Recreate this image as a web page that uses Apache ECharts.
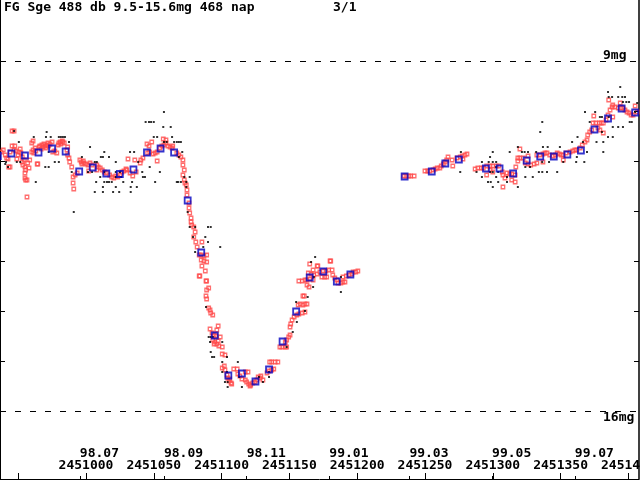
<!DOCTYPE html>
<html>
<head>
<meta charset="utf-8">
<script src="https://cdn.jsdelivr.net/npm/echarts@6/dist/echarts.min.js"></script>
<style>html,body{margin:0;padding:0;background:#fff}#c{width:640px;height:480px}</style>
</head>
<body>
<div id="c"></div>
<script>
const JD0 = 2451000;
const titleText = 'FG Sge 488 db 9.5-15.6mg 468 nap';
const pageText = '3/1';
const jdTicks = [2450950, 2451000, 2451050, 2451100, 2451150, 2451200, 2451250, 2451300, 2451350, 2451400];
const jdLabelTicks = [2451000, 2451050, 2451100, 2451150, 2451200, 2451250, 2451300, 2451350, 2451400];
const monthTicks = [2450995.5, 2451057.5, 2451118.5, 2451179.5, 2451238.5, 2451299.5, 2451360.5];
const monthLabels = ['98.07', '98.09', '98.11', '99.01', '99.03', '99.05', '99.07'];
const magTicks = [10, 11, 12, 13, 14, 15];
const refMags = [9, 16];
const refLabels = ['9mg', '16mg'];

// 10-day means (days relative to JD0)
const blueDays = [-65,-55,-45,-35,-25,-15,-5,5,15,25,35,45,55,65,75,85,95,105,115,125,135,145,155,165,175,185,195,235,255,265,275,295,305,315,325,335,345,355,365,375,385,395,405];
const blueMags = [10.90,10.85,10.89,10.83,10.75,10.81,11.21,11.13,11.25,11.26,11.17,10.83,10.75,10.83,11.79,12.83,14.49,15.29,15.25,15.41,15.17,14.61,14.01,13.33,13.21,13.41,13.27,11.31,11.21,11.05,10.97,11.15,11.15,11.25,10.99,10.91,10.91,10.87,10.79,10.37,10.15,9.95,10.03];

// database observations [day, mag]
const redObs = [
[-62.5,10.82],[-61,10.78],[-59.5,10.88],[-58.5,10.94],[-57.5,10.96],[-56,10.82],[-54.5,10.70],[-54.5,10.40],[-53,10.40],[-52.5,10.70],
[-53,10.78],[-51.5,10.80],[-51,10.96],[-57,11.12],[-56,11.12],[-50,10.88],[-49.5,10.82],[-48.5,10.76],[-48,10.84],[-47,10.92],
[-47,11.02],[-46.5,11.08],[-45.5,10.98],[-45,11.12],[-44.5,11.18],[-45,11.24],[-45,11.34],[-44.5,11.38],[-43.5,11.38],[-43.5,11.72],
[-42,11.14],[-43,11.04],[-41.5,10.98],[-40,10.82],[-39,10.78],[-38.5,10.84],[-40,10.64],[-39,10.60],[-37.5,10.74],[-37,10.80],
[-36,11.06],[-35.5,11.06],[-34.5,10.72],[-34,10.70],[-33,10.76],[-32.5,10.68],[-31.5,10.72],[-31,10.66],[-30,10.70],[-29.5,10.74],
[-29,10.68],[-28,10.64],[-27.5,10.70],[-26.5,10.66],[-25,10.62],[-24.5,10.82],[-23,10.80],[-21.5,10.84],[-20.5,10.68],[-20,10.64],
[-19,10.62],[-18.5,10.66],[-17.5,10.60],[-17,10.62],[-16,10.64],[-14,10.78],[-13.5,10.72],[-13.5,10.88],[-12.5,10.94],[-12,11.02],
[-10.5,11.12],[-9.5,11.32],[-8,11.28],[-6.5,11.24],[-9.5,11.44],[-9,11.56],[-4.5,10.98],[-3.5,11.02],[-3,11.06],[-2,11.00],
[-1.5,11.04],[0,11.06],[1.5,11.08],[3,11.04],[4.5,11.08],[2,11.20],[8,11.18],[8,11.08],[9,11.12],[10.5,11.14],
[12,11.18],[13.5,11.22],[15,11.24],[17.5,11.28],[19,11.32],[20.5,11.34],[22,11.30],[23.5,11.32],[25,11.28],[26.5,11.22],
[28,11.20],[29.5,11.16],[30,11.18],[31,10.96],[36,10.98],[32.5,11.24],[34.5,11.30],[37,11.22],[40,11.04],[40.5,10.98],
[42,10.94],[45,10.66],[46.5,10.70],[48.5,10.62],[45.5,10.84],[47,10.82],[49.5,10.86],[51,10.84],[52.5,10.82],[52.5,11.00],
[54.5,10.74],[56,10.70],[57.5,10.68],[59,10.64],[57,10.56],[59,10.58],[60.5,10.70],[62,10.72],[63.5,10.74],[64,10.70],
[67,10.84],[68.5,10.88],[70,10.92],[71.5,10.98],[71.5,11.08],[72.5,11.18],[71.5,11.28],[72.5,11.38],[73,11.44],[74,11.48],
[74.5,11.58],[74.5,11.68],[76,11.84],[76,11.94],[76.5,12.04],[77.5,12.14],[77.5,12.22],[78,12.28],[79.5,12.32],[80.5,12.42],
[79.5,12.52],[81,12.62],[82,12.72],[85.5,12.62],[83.5,12.88],[85,12.88],[87,12.90],[89,12.88],[85,12.98],[87,13.00],
[89,13.02],[85.5,13.10],[88,13.20],[83.5,13.30],[84,13.30],[88.5,13.40],[89,13.40],[90.5,13.54],[89,13.58],[88.5,13.70],
[89,13.76],[90.5,13.94],[91.5,13.98],[92,14.04],[93.5,14.08],[97.5,14.30],[91.5,14.36],[96.5,14.38],[93,14.44],[94.5,14.48],
[96,14.50],[99,14.52],[93.5,14.58],[95,14.62],[96.5,14.66],[98,14.70],[100.5,14.72],[94.5,14.66],[97.5,14.60],[100.5,14.86],
[102.5,14.88],[102,15.10],[100.5,15.14],[102.5,15.18],[104,15.28],[104.5,15.34],[105.5,15.40],[107,15.44],[107.5,15.46],[106,15.36],
[109,15.16],[111.5,15.16],[112,15.26],[113.5,15.30],[115,15.36],[117.5,15.22],[119.5,15.22],[117.5,15.38],[118.5,15.42],[120,15.46],
[121.5,15.48],[123,15.44],[124.5,15.42],[126,15.38],[121,15.50],[127,15.32],[128.5,15.34],[130.5,15.38],[129,15.30],[133.5,15.24],
[135,15.20],[137,15.18],[138.5,15.16],[135.5,15.02],[137,15.02],[139.5,15.02],[141.5,15.02],[143,14.72],[144.5,14.72],[147,14.72],
[148,14.72],[147,14.62],[148,14.58],[149.5,14.52],[150.5,14.48],[150.5,14.32],[151,14.26],[152,14.18],[153.5,14.12],[155.5,14.08],
[157,14.06],[159.5,14.04],[161.5,14.02],[156.5,13.88],[158,13.86],[160,13.88],[161.5,13.86],[163,13.86],[160,13.70],[161,13.70],
[157,13.40],[159.5,13.40],[161.5,13.38],[163,13.38],[165,13.36],[167.5,13.38],[163,13.48],[164.5,13.52],[164,13.24],[166,13.26],
[168,13.28],[170.5,13.26],[165,13.06],[167.5,13.18],[170.5,13.10],[171,13.10],[172.5,13.22],[175,13.20],[177,13.20],[179,13.18],
[181.5,13.18],[174,13.32],[176,13.32],[177.5,13.32],[180,13.00],[180.5,13.00],[182,13.28],[183.5,13.34],[185,13.38],[186,13.44],
[188,13.44],[189.5,13.42],[191,13.42],[189.5,13.32],[192,13.30],[194,13.28],[196,13.26],[197,13.22],[199,13.22],[200.5,13.20],
[234.5,11.30],[236,11.30],[238,11.30],[239.5,11.30],[242,11.30],[250,11.20],[252,11.20],[253.5,11.20],[256,11.18],[257.5,11.16],
[259,11.14],[261,11.14],[262,11.10],[263.5,11.06],[265,11.02],[266,10.98],[267,10.92],[270,10.98],[270.5,11.10],[273.5,10.94],
[276,10.92],[277.5,10.90],[279.5,10.88],[281,10.86],[278,10.96],[287,11.16],[289,11.14],[291.5,11.14],[293,11.14],[295.5,11.10],
[298,11.10],[300,11.10],[302.5,11.10],[304.5,11.10],[295.5,11.28],[298,11.18],[300,11.22],[307,11.22],[307.5,11.28],[309,11.34],
[307.5,11.52],[310.5,11.24],[312.5,11.26],[314,11.26],[316.5,11.28],[314,11.38],[316.5,11.42],[317,11.12],[318.5,11.00],[320,10.76],
[318.5,10.94],[320,10.94],[322.5,10.94],[324,11.04],[326,11.06],[328,11.08],[330.5,11.06],[332.5,11.04],[326,10.90],[332.5,10.88],
[335,10.88],[337,10.86],[338.5,10.84],[340,10.84],[337,11.02],[342,10.88],[344.5,10.90],[346,10.88],[347.5,10.84],[349,10.86],
[350.5,10.88],[352,10.88],[352,10.98],[354,10.84],[357,10.82],[359,10.80],[360.5,10.78],[362,10.78],[364.5,10.74],[366,10.68],
[368,10.62],[369.5,10.58],[370,10.48],[371.5,10.42],[373,10.38],[374.5,10.10],[374,10.24],[376,10.24],[378.5,10.24],[380,10.24],
[381.5,10.24],[377.5,10.34],[379,10.38],[381.5,10.44],[383.5,10.18],[385,10.08],[386.5,9.98],[388.5,9.88],[385.5,9.78],[388,9.92],
[390,9.92],[392.5,9.94],[394.5,9.94],[396,9.94],[388.5,10.12],[394,9.84],[397.5,9.98],[399,10.02],[400.5,10.04],[402,10.08],
[403.5,10.08],[405,9.90],[406.5,10.02]
];

// other observations [day, mag]
const blackObs = [
[57.5,10.02],[44,10.22],[46.5,10.22],[48,10.22],[50,10.22],[57,10.32],[62.5,10.32],[-29,10.42],[-53,10.40],[-38.5,10.52],
[-29.5,10.52],[-26,10.52],[-20,10.52],[-18.5,10.52],[-17,10.52],[-15.5,10.52],[-49.5,10.62],[-12.5,10.62],[3,10.72],[50,10.52],
[52.5,10.52],[63.5,10.52],[65,10.62],[67,10.62],[68.5,10.62],[70,10.62],[57.5,10.62],[59.5,10.62],[32.5,10.82],[35.5,10.82],
[-27.5,10.82],[71,10.82],[13.5,10.82],[-3,10.92],[11,10.92],[12.5,10.92],[17,10.92],[38.5,11.02],[68.5,10.92],[-59,11.02],
[-51,11.02],[-48.5,11.02],[-23,11.02],[-20,11.02],[6.5,11.02],[8,11.02],[22,11.02],[-30,11.12],[-27.5,11.12],[-10.5,11.22],
[1.5,11.22],[4.5,11.22],[13.5,11.22],[22,11.22],[25,11.22],[41.5,11.22],[54.5,11.22],[47,11.12],[7.5,11.42],[13.5,11.42],
[15.5,11.42],[17,11.42],[19,11.42],[27.5,11.42],[34,11.42],[42,11.32],[43.5,11.32],[51,11.42],[68,11.42],[-37,11.42],
[12.5,11.52],[22,11.52],[33,11.52],[37.5,11.52],[6.5,11.62],[12.5,11.62],[20,11.62],[24.5,11.62],[33,11.62],[-9,12.02],
[74,11.42],[76.5,11.32],[72.5,11.32],[74,11.52],[80.5,12.32],[79,12.52],[-59.5,11.06],[-57.5,11.12],[10.5,11.32],[22,11.32],
[26,11.32],[67,11.42],[70,11.42],[90,12.32],[92,12.32],[76.5,12.32],[88,12.52],[90,12.62],[99,12.72],[86.5,12.72],
[80.5,12.82],[75,12.02],[169,12.92],[166,13.02],[168,13.32],[167.5,13.52],[188,13.32],[188,13.62],[163.5,13.72],[155,13.82],
[161.5,14.00],[155.5,14.22],[152.5,14.42],[88.5,13.92],[90.5,14.52],[92,14.52],[93.5,14.52],[91.5,14.62],[100.5,14.62],[92,14.82],
[93,14.92],[94.5,14.92],[104,14.92],[100.5,15.02],[112,15.02],[100.5,15.22],[104,15.22],[102.5,15.42],[104.5,15.42],[104.5,15.52],
[115,15.52],[113,15.32],[135,15.22],[135,15.32],[127.5,15.32],[130.5,15.42],[148,14.72],
[385,9.62],[385.5,9.72],[388,9.72],[392.5,9.72],[395.5,9.72],[397.5,9.72],[396,9.82],[398.5,9.82],[400.5,9.82],[368,10.02],
[375.5,10.02],[379,10.12],[380.5,10.12],[385.5,10.12],[401,10.22],[402.5,10.22],[336.5,10.22],[371.5,10.22],[388.5,10.32],[392.5,10.32],
[396,10.32],[335,10.42],[380.5,10.42],[385,10.52],[388.5,10.52],[362.5,10.52],[376.5,10.62],[381.5,10.62],[358.5,10.62],[366.5,10.62],
[337,10.72],[340.5,10.72],[349.5,10.72],[318.5,10.72],[276.5,10.82],[300,10.82],[312.5,10.82],[321.5,10.82],[323.5,10.82],[326,10.82],
[332,10.82],[369.5,10.82],[381.5,10.82],[298,10.92],[362,10.92],[292,11.02],[297,11.02],[300,11.02],[302.5,11.02],[336.5,11.02],
[341.5,11.02],[352,11.02],[361.5,11.02],[367.5,11.02],[324,11.12],[327.5,11.12],[302.5,11.12],[276,11.22],[288,11.22],[298,11.22],
[300,11.22],[304,11.22],[334,11.22],[336.5,11.22],[340,11.22],[347.5,11.22],[292,11.32],[302.5,11.32],[310.5,11.32],[324,11.32],
[329.5,11.32],[296.5,11.42],[298.5,11.42],[304,11.42],[310.5,11.42],[300,11.52],[318.5,11.52],[405,10.02],[394,9.52],[406.5,9.84]
];

const FONT = 'DejaVu Sans Mono';
const toJD = arr => arr.map(p => [JD0 + p[0], p[1]]);
const chart = echarts.init(document.getElementById('c'), null, {renderer: 'canvas'});

const yAxisBase = {
  type: 'value', min: 7.78, max: 17.36, inverse: true,
  axisLine: {show: true, lineStyle: {color: '#000', width: 2}},
  axisTick: {show: true, inside: true, length: 5, lineStyle: {color: '#000', width: 1}, customValues: magTicks},
  axisLabel: {show: false},
  splitLine: {show: false}
};

chart.setOption({
  animation: false,
  backgroundColor: '#fff',
  title: [
    {text: titleText, left: 4, top: 1, padding: 0, textStyle: {fontFamily: FONT, fontWeight: 'bold', fontSize: 13, color: '#000'}},
    {text: pageText, left: 333, top: 1, padding: 0, textStyle: {fontFamily: FONT, fontWeight: 'bold', fontSize: 13, color: '#000'}}
  ],
  grid: {left: 0, right: 1, top: 0, bottom: 1, containLabel: false, outerBoundsMode: 'none'},
  xAxis: [
    {
      type: 'value', position: 'bottom', min: 2450936.6, max: 2451407.84,
      axisLine: {show: true, lineStyle: {color: '#000', width: 1}},
      axisTick: {show: true, inside: true, length: 6, lineStyle: {color: '#000'}, customValues: jdTicks},
      axisLabel: {show: true, inside: true, margin: 7, customValues: jdLabelTicks, formatter: v => String(Math.round(v)),
        fontFamily: FONT, fontWeight: 'bold', fontSize: 13, color: '#000', showMinLabel: true, showMaxLabel: true, hideOverlap: false},
      splitLine: {show: false}
    },
    {
      type: 'value', position: 'bottom', min: 2450936.6, max: 2451407.84,
      axisLine: {show: false},
      axisTick: {show: true, inside: true, length: 3, lineStyle: {color: '#000'}, customValues: monthTicks},
      axisLabel: {show: true, inside: true, margin: 19, align: 'left', customValues: monthTicks,
        formatter: v => monthLabels[monthTicks.indexOf(v)] || '',
        fontFamily: FONT, fontWeight: 'bold', fontSize: 13, color: '#000', hideOverlap: false},
      splitLine: {show: false}
    }
  ],
  yAxis: [
    Object.assign({}, yAxisBase, {position: 'left'}),
    Object.assign({}, yAxisBase, {position: 'right', axisLine: {show: true, lineStyle: {color: '#000', width: 1.5}}})
  ],
  graphic: [
    {type: 'text', left: 603, top: 49, style: {text: refLabels[0], font: 'bold 13px "' + FONT + '"', fill: '#000'}},
    {type: 'text', left: 603, top: 411, style: {text: refLabels[1], font: 'bold 13px "' + FONT + '"', fill: '#000'}}
  ],
  series: [
    {
      type: 'scatter', name: 'db', data: toJD(redObs), symbol: 'rect', symbolSize: 3.5,
      itemStyle: {color: 'rgba(0,0,0,0)', borderColor: '#ff4a4a', borderWidth: 1.3}, z: 2,
      markLine: {
        silent: true, symbol: 'none', label: {show: false},
        lineStyle: {color: '#000', width: 1, type: [6, 9]},
        data: refMags.map(m => ({yAxis: m}))
      }
    },
    {
      type: 'scatter', name: 'other', data: toJD(blackObs), symbol: 'rect', symbolSize: 2,
      itemStyle: {color: '#000'}, z: 3
    },
    {
      type: 'scatter', name: 'mean', data: blueDays.map((d, i) => [JD0 + d, blueMags[i]]), symbol: 'rect', symbolSize: 6,
      clip: false, itemStyle: {color: 'rgba(0,0,0,0)', borderColor: '#0000c0', borderWidth: 1.8}, z: 4
    }
  ]
});
</script>
</body>
</html>
